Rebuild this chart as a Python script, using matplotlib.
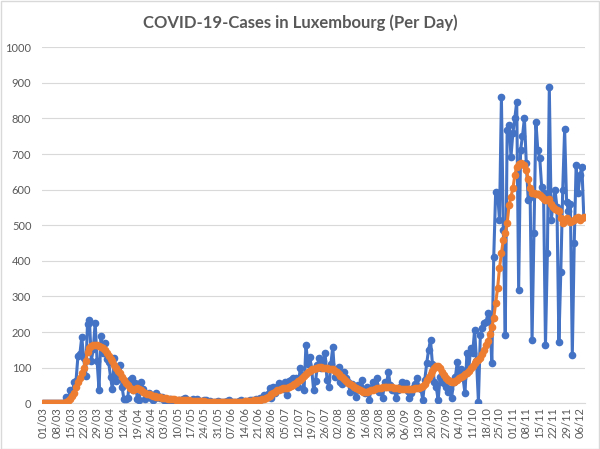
import matplotlib
matplotlib.use("Agg")
import matplotlib.pyplot as plt
from matplotlib.patches import Rectangle

plt.rcParams["font.family"] = ["Lato", "DejaVu Sans"]

TEXT = "#595959"
GRID = "#D9D9D9"
BLUE = "#4472C4"
ORANGE = "#ED7D31"

# new cases per day, 01/03 .. 08/12
cases_mar = [0, 0, 0, 0, 0, 0, 0, 1, 0, 2, 2,
             2, 19, 10, 38, 25, 59, 63, 132, 138, 186,
             128, 77, 224, 234, 120, 152, 226, 119, 38, 190]
cases_apr = [141, 168, 125, 117, 75, 39, 127, 64, 81, 108,
             47, 11, 11, 15, 66, 71, 36, 57, 13, 8,
             60, 40, 12, 20, 28, 15, 10, 14, 29, 20]
cases_may = [15, 18, 9, 5, 10, 12, 3, 8, 6, 4,
             10, 7, 13, 15, 8, 3, 5, 12, 6, 11,
             4, 2, 5, 8, 9, 3, 6, 2, 4, 5, 7]
cases_jun = [3, 5, 4, 2, 6, 8, 3, 4, 5, 2,
             6, 9, 4, 7, 5, 3, 8, 10, 6, 12,
             9, 15, 12, 22, 18, 25, 43, 14, 47, 30]
cases_jul = [45, 57, 51, 40, 60, 23, 62, 65, 70, 55,
             71, 47, 98, 80, 37, 164, 110, 131, 95, 37,
             62, 108, 127, 100, 120, 140, 65, 47, 110, 159, 75]
cases_aug = [95, 103, 60, 55, 89, 70, 60, 33, 55, 45,
             19, 50, 38, 65, 35, 30, 45, 9, 42, 60,
             55, 70, 33, 40, 14, 61, 52, 89, 50, 37, 40]
cases_sep = [14, 38, 45, 61, 55, 58, 35, 14, 30, 42,
             55, 70, 45, 40, 9, 65, 112, 150, 178, 110,
             60, 45, 9, 75, 60, 56, 45, 33, 40, 14]
cases_oct = [60, 75, 117, 80, 95, 70, 28, 140, 100, 154,
             140, 206, 120, 5, 192, 211, 225, 229, 253, 243,
             112, 412, 594, 590, 515, 859, 487, 192, 768, 782, 693]
cases_nov = [760, 801, 847, 318, 711, 750, 801, 674, 571, 580,
             178, 478, 791, 711, 690, 608, 590, 164, 423, 888,
             515, 560, 599, 550, 173, 370, 600, 770, 566, 540]
cases_dec = [560, 136, 449, 669, 590, 640, 665, 524]

# 7-day average line
avg_mar = [0, 0, 0, 0, 0, 0, 0, 0, 0, 0, 0,
           1, 3, 6, 12, 20, 30, 45, 61, 72, 85,
           98, 120, 145, 155, 160, 164, 165, 163, 160, 158]
avg_apr = [155, 150, 140, 132, 125, 118, 108, 100, 92, 84,
           75, 66, 58, 50, 44, 40, 38, 40, 42, 40,
           36, 32, 29, 27, 25, 23, 21, 20, 19, 18]
avg_may = [17, 16, 15, 14, 13, 12, 11, 11, 10, 10,
           9, 9, 9, 8, 8, 8, 7, 7, 7, 7,
           6, 6, 6, 6, 5, 5, 5, 5, 5, 5, 5]
avg_jun = [5, 5, 4, 4, 4, 4, 4, 4, 5, 5,
           5, 5, 5, 6, 6, 6, 7, 7, 8, 8,
           9, 10, 11, 13, 15, 18, 21, 25, 29, 32]
avg_jul = [36, 38, 40, 42, 43, 43, 45, 48, 52, 55,
           58, 62, 65, 70, 76, 82, 88, 92, 95, 97,
           98, 100, 101, 101, 100, 99, 98, 97, 96, 95, 92]
avg_aug = [88, 82, 78, 73, 68, 63, 58, 55, 51, 47,
           43, 40, 37, 35, 33, 33, 33, 34, 36, 38,
           40, 42, 43, 44, 45, 46, 47, 47, 46, 45, 44]
avg_sep = [43, 42, 41, 40, 40, 39, 39, 40, 40, 41,
           42, 43, 44, 45, 48, 55, 65, 75, 82, 92,
           100, 105, 104, 98, 88, 80, 72, 66, 62, 60]
avg_oct = [61, 63, 66, 70, 74, 78, 82, 86, 92, 98,
           105, 112, 118, 122, 128, 138, 150, 165, 175, 195,
           215, 240, 281, 323, 380, 421, 459, 478, 506, 557, 580]
avg_nov = [604, 640, 665, 672, 675, 672, 668, 655, 630, 604,
           592, 590, 588, 588, 585, 580, 575, 571, 572, 575,
           560, 552, 545, 543, 540, 520, 506, 515, 520, 515]
avg_dec = [510, 512, 515, 520, 524, 515, 520, 524]

tick_labels = ["01/03", "08/03", "15/03", "22/03", "29/03", "05/04", "12/04",
               "19/04", "26/04", "03/05", "10/05", "17/05", "24/05", "31/05",
               "07/06", "14/06", "21/06", "28/06", "05/07", "12/07", "19/07",
               "26/07", "02/08", "09/08", "16/08", "23/08", "30/08", "06/09",
               "13/09", "20/09", "27/09", "04/10", "11/10", "18/10", "25/10",
               "01/11", "08/11", "15/11", "22/11", "29/11", "06/12"]

cases = (cases_mar + cases_apr + cases_may + cases_jun + cases_jul
         + cases_aug + cases_sep + cases_oct + cases_nov + cases_dec)
avg = (avg_mar + avg_apr + avg_may + avg_jun + avg_jul
       + avg_aug + avg_sep + avg_oct + avg_nov + avg_dec)
days = list(range(len(cases)))

fig = plt.figure(figsize=(6, 4.49), dpi=100)
fig.patches.append(Rectangle((0.001, 0.001), 0.997, 0.996, transform=fig.transFigure,
                             fill=False, edgecolor=GRID, lw=1))
ax = fig.add_axes([0.0708, 0.1018, 0.9038, 0.7929])

ax.plot(days, cases, color=BLUE, lw=2.2, marker="o", ms=4.5, zorder=3)
ax.plot(days, avg, color=ORANGE, lw=2.2, marker="o", ms=4.5, zorder=4)

ax.set_xlim(-0.5, len(cases) - 0.5)
ax.set_ylim(0, 1000)
ax.set_yticks(range(0, 1001, 100))
ax.set_xticks(days[::7])
ax.set_xticklabels(tick_labels, rotation=90)
ax.tick_params(axis="both", length=0, colors=TEXT, labelsize=8)
ax.tick_params(axis="y", pad=8)
ax.tick_params(axis="x", pad=3)
ax.grid(axis="y", color=GRID, lw=0.8)
ax.set_axisbelow(True)
for side in ["left", "right", "top"]:
    ax.spines[side].set_visible(False)
ax.spines["bottom"].set_color(GRID)

fig.text(0.5, 0.949, "COVID-19-Cases in Luxembourg (Per Day)", ha="center", va="center",
         fontsize=12, fontweight="bold", color=TEXT)

fig.savefig("out.png", dpi=100)
